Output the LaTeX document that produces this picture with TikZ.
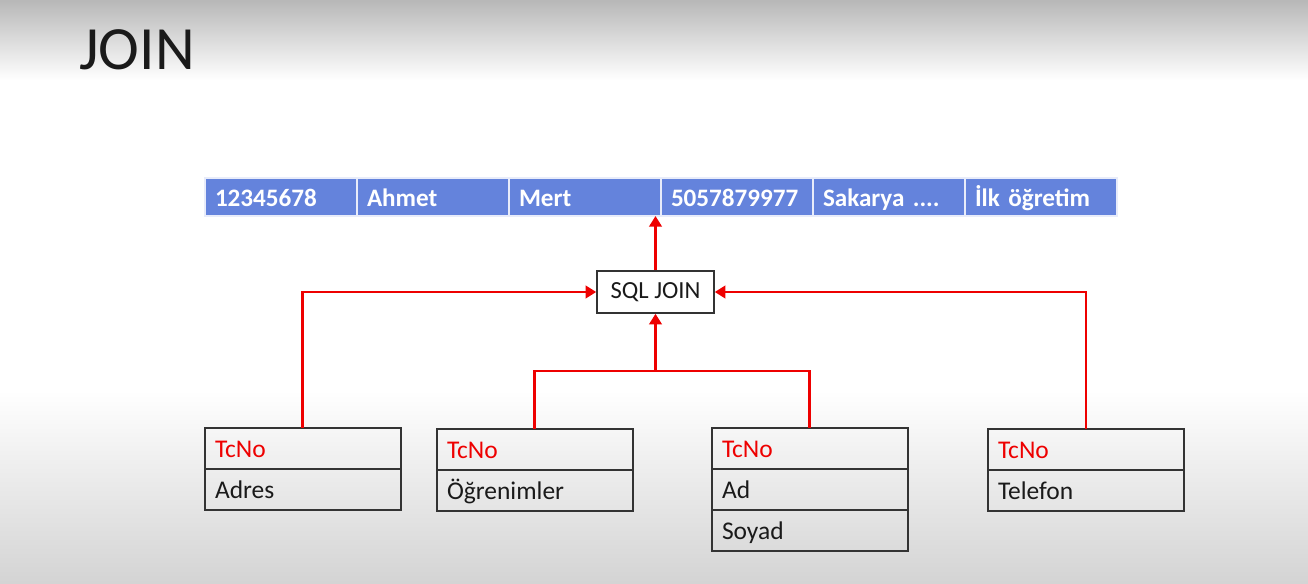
\documentclass[tikz,border=0pt]{standalone}
\usepackage{fontspec}
\setmainfont{Carlito}
\usetikzlibrary{arrows.meta}
\definecolor{bluecell}{HTML}{6483DC}
\definecolor{redline}{HTML}{EE0000}
\definecolor{border}{HTML}{333333}
\definecolor{txt}{HTML}{1A1A1A}
\begin{document}
\begin{tikzpicture}[x=0.02cm,y=-0.02cm,
  bcell/.style={rectangle, fill=bluecell, draw=white!85!bluecell, line width=0.6pt,
    anchor=north west, minimum height=0.76cm, text width=2.64cm, inner xsep=0.2cm, inner ysep=0pt,
    outer sep=0pt, text height=12pt, text depth=0.8pt,
    align=left, text=white, font=\fontsize{14.3}{16}\selectfont\bfseries},
  tcell/.style={rectangle, draw=border, line width=0.85pt, fill=none,
    minimum height=0.82cm, text width=3.52cm, inner xsep=0.2cm, inner ysep=0pt,
    outer sep=0pt, text height=11.5pt, text depth=0.9pt,
    align=left, text=txt, font=\fontsize{14.5}{16}\selectfont},
  keycell/.style={tcell, text=redline},
  joinbox/.style={rectangle, draw=border, line width=0.85pt, fill=white,
    minimum width=2.34cm, minimum height=0.84cm, inner sep=0pt,
    text=txt, font=\fontsize{14}{16}\selectfont},
  wire/.style={draw=redline, line width=1.7pt},
  link/.style={wire, -{Triangle[length=6pt,width=7pt]}}
]
\useasboundingbox (0,0) rectangle (1308,584);
% background
\shade[top color=black!28, bottom color=white] (0,0) rectangle (1308,80);
\fill[white] (0,80) rectangle (1308,390);
\shade[top color=white, bottom color=black!17] (0,390) rectangle (1308,584);

% title
\node[anchor=base west, inner sep=0pt, text=txt, font=\fontsize{35}{40}\selectfont] (title) at (79,70) {JOIN};

% result row
\node[bcell] (b1) at (205,178) {12345678};
\node[bcell] (b2) at (357,178) {Ahmet};
\node[bcell] (b3) at (509,178) {Mert};
\node[bcell] (b4) at (661,178) {5057879977};
\node[bcell] (b5) at (813,178) {Sakarya ....};
\node[bcell] (b6) at (965,178) {İlk öğretim};

% join box
\node[joinbox] (join) at (655.5,292) {SQL JOIN};

% tables
\node[keycell, anchor=north west] (a1) at (205,428) {TcNo};
\node[tcell, anchor=north] (a2) at (a1.south) {Adres};

\node[keycell, anchor=north west] (o1) at (437,429) {TcNo};
\node[tcell, anchor=north] (o2) at (o1.south) {Öğrenimler};

\node[keycell, anchor=north west] (d1) at (712,428) {TcNo};
\node[tcell, anchor=north] (d2) at (d1.south) {Ad};
\node[tcell, anchor=north] (d3) at (d2.south) {Soyad};

\node[keycell, anchor=north west] (t1) at (988,429) {TcNo};
\node[tcell, anchor=north] (t2) at (t1.south) {Telefon};

% connectors
\coordinate (mid) at (655.5,371);
\draw[link] (a1.north) |- (join.west);
\draw[link] (t1.north) |- (join.east);
\draw[wire] (o1.north) |- (mid) -| (d1.north);
\draw[link] (mid) -- (join.south);
\draw[link] (join.north) -- (join.north |- b3.south);
\end{tikzpicture}
\end{document}
